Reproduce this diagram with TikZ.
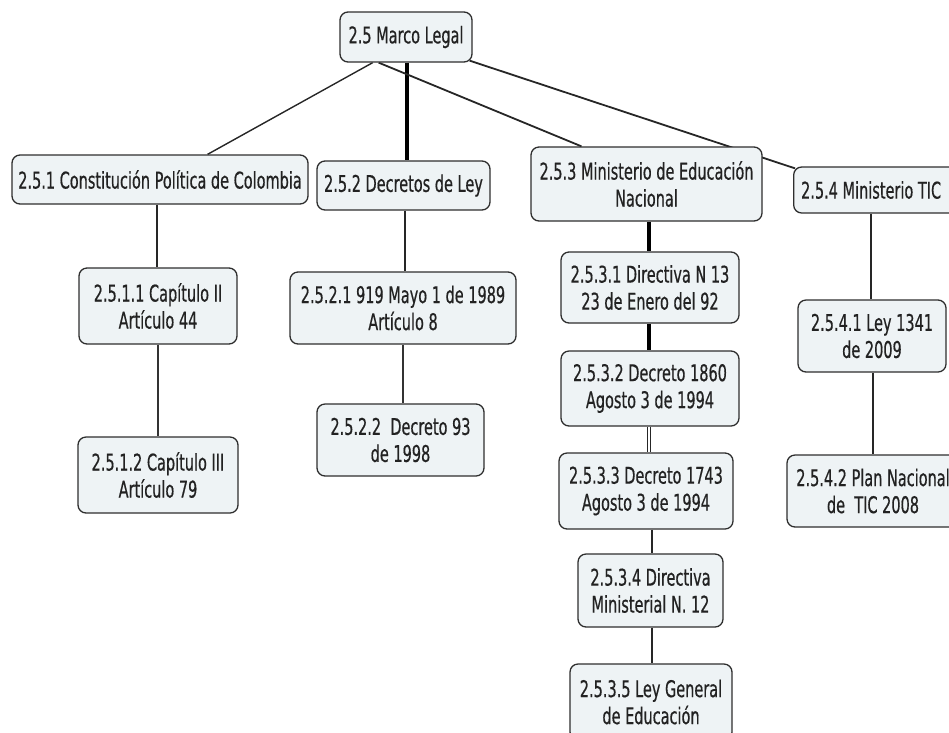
\documentclass[tikz,border=0pt]{standalone}
\usepackage{fontspec}
\setmainfont{DejaVu Sans}[FakeStretch=0.63,FakeBold=0.5]
\usetikzlibrary{calc}
\pgfdeclarelayer{bg}
\pgfsetlayers{bg,main}
\definecolor{boxfill}{HTML}{EEF3F5}
\definecolor{boxline}{HTML}{2E2E2E}
\definecolor{txt}{HTML}{222222}
\tikzset{
  cbox/.style={draw=boxline, fill=boxfill, rounded corners=8pt, line width=1.3pt,
    align=center, inner sep=0pt, text=txt,
    font=\fontsize{23}{27}\selectfont},
  lk/.style={draw=black!85, line width=1.4pt},
  lkthin/.style={draw=black!80, line width=1.2pt},
  lkthick/.style={draw=black, line width=3.2pt},
  lkdouble/.style={draw=black!85, double=white, double distance=1.8pt, line width=1.1pt},
}
\begin{document}
\begin{tikzpicture}[x=1pt,y=-1pt]
\useasboundingbox (0,0) rectangle (949,732);
\clip (0,0) rectangle (949,732);
% nodes
\node[cbox, minimum width=132, minimum height=50] (root) at (406,37) {2.5 Marco Legal};
\node[cbox, minimum width=296, minimum height=49] (n1) at (160,179.5) {2.5.1 Constitución Política de Colombia};
\node[cbox, minimum width=173, minimum height=49] (n2) at (403.5,185.5) {2.5.2 Decretos de Ley};
\node[cbox, minimum width=231, minimum height=74] (n3) at (646.5,184) {2.5.3 Ministerio de Educación\\Nacional};
\node[cbox, minimum width=166, minimum height=46, anchor=west] (n4) at (793,190) {\hspace*{-11pt}2.5.4 Ministerio TIC};
\node[cbox, minimum width=158, minimum height=76] (n11) at (158,306) {2.5.1.1 Capítulo II\\Artículo 44};
\node[cbox, minimum width=160, minimum height=76] (n12) at (158,475) {2.5.1.2 Capítulo III\\Artículo 79};
\node[cbox, minimum width=226, minimum height=72] (n21) at (403,308) {2.5.2.1 919 Mayo 1 de 1989\\Artículo 8};
\node[cbox, minimum width=167, minimum height=72] (n22) at (400.5,440) {2.5.2.2 \ Decreto 93\\de 1998};
\node[cbox, minimum width=178, minimum height=71] (n31) at (650,287.5) {2.5.3.1 Directiva N 13\\23 de Enero del 92};
\node[cbox, minimum width=178, minimum height=75] (n32) at (650,388.5) {2.5.3.2 Decreto 1860\\Agosto 3 de 1994};
\node[cbox, minimum width=174, minimum height=76] (n33) at (646,491) {2.5.3.3 Decreto 1743\\Agosto 3 de 1994};
\node[cbox, minimum width=145, minimum height=73] (n34) at (650.5,590.5) {2.5.3.4 Directiva\\Ministerial N. 12};
\node[cbox, minimum width=162, minimum height=76] (n35) at (651,702) {2.5.3.5 Ley General\\de Educación};
\node[cbox, minimum width=148, minimum height=72] (n41) at (872,336) {2.5.4.1 Ley 1341\\de 2009};
\node[cbox, minimum width=172, minimum height=72] (n42) at (873,491) {2.5.4.2 Plan Nacional\\de \ TIC 2008};
% connector end points
\coordinate (r2) at ($(root.south)+(1,0)$);
\coordinate (c1) at ($(n1.south)+(-3,0)$);
\coordinate (c2) at ($(n2.south)+(1.5,0)$);
\coordinate (c3) at ($(n3.south)+(2.5,0)$);
\coordinate (c31) at ($(n31.south)+(-1,0)$);
\coordinate (c32) at ($(n32.south)+(-1,0)$);
\coordinate (c33) at ($(n33.south)+(6,0)$);
\coordinate (c34) at ($(n34.south)+(1.5,0)$);
\coordinate (c4) at ($(n4.south west)+(78,0)$);
\coordinate (c41) at ($(n41.south)+(1,0)$);
% connectors
\begin{pgfonlayer}{bg}
\draw[lk] ($(root.south west)!0.25!(root.south east)$) -- ($(n1.north west)!0.66!(n1.north east)$);
\draw[lkthick] (r2) -- (r2 |- n2.north);
\draw[lk, line width=1.8pt] ($(root.south west)!0.295!(root.south east)$) -- ($(n3.north west)!0.22!(n3.north east)$);
\draw[lk, line width=1.8pt] ($(root.south east)+(-3,-2)$) -- ($(n4.north west)+(2,2)$);
\draw[lk] (c1) -- (c1 |- n11.north);
\draw[lkthin] (n11.south) -- (n11.south |- n12.north);
\draw[lk, line width=1.8pt] (c2) -- (c2 |- n21.north);
\draw[lkthin] (n21.south) -- (n21.south |- n22.north);
\draw[lkthick] (c3) -- (c3 |- n31.north);
\draw[lkthick] (c31) -- (c31 |- n32.north);
\draw[lkdouble] (c32) -- (c32 |- n33.north);
\draw[lk] (c33) -- (c33 |- n34.north);
\draw[lk] (c34) -- (c34 |- n35.north);
\draw[lk] (c4) -- (c4 |- n41.north);
\draw[lk] (c41) -- (c41 |- n42.north);
\end{pgfonlayer}
\end{tikzpicture}
\end{document}
